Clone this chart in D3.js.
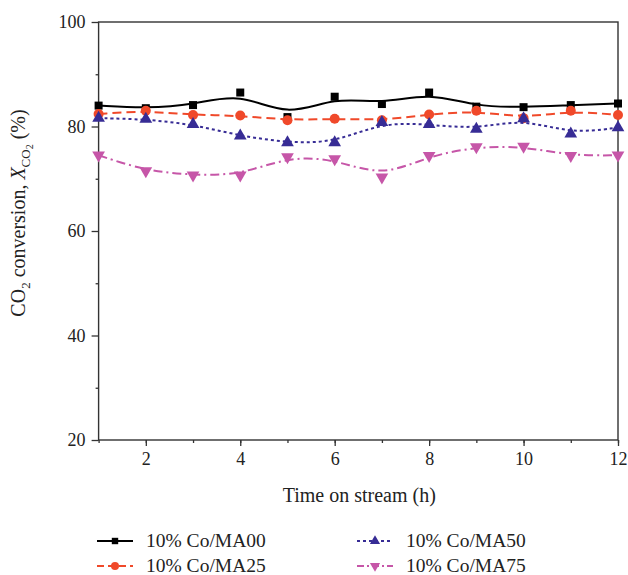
<!DOCTYPE html>
<html>
<head>
<meta charset="utf-8">
<script src="https://cdn.jsdelivr.net/npm/d3@7"></script>
<style>
  html, body { margin: 0; padding: 0; background: #fff; }
  svg { display: block; font-family: "Liberation Serif", "DejaVu Serif", serif; }
</style>
</head>
<body>
<svg id="chart" width="628" height="575"></svg>
<script>
// Time on stream (h)
const hours = [1, 2, 3, 4, 5, 6, 7, 8, 9, 10, 11, 12];

// CO2 conversion (%) for each catalyst
const ma00 = [84.0, 83.5, 84.1, 86.5, 81.8, 85.7, 84.3, 86.5, 83.8, 83.7, 84.1, 84.4];
const ma25 = [82.4, 83.0, 82.2, 82.1, 81.2, 81.5, 81.2, 82.3, 83.0, 81.6, 83.0, 82.2];
const ma50 = [81.6, 81.4, 80.4, 78.2, 76.9, 76.9, 80.8, 80.4, 79.5, 81.5, 78.6, 79.8];
const ma75 = [74.5, 71.5, 70.7, 70.7, 74.2, 73.8, 70.3, 74.4, 76.1, 76.2, 74.4, 74.5];

const seriesNames = ["10% Co/MA00", "10% Co/MA25", "10% Co/MA50", "10% Co/MA75"];
const yTicks = [20, 40, 60, 80, 100];
const xTicks = [2, 4, 6, 8, 10, 12];

const series = [
  { name: seriesNames[0], values: ma00, color: "#000000", dash: null, legendDash: null, symbol: "square" },
  { name: seriesNames[1], values: ma25, color: "#f0492a", dash: "9,5", legendDash: "7,4", symbol: "circle" },
  { name: seriesNames[2], values: ma50, color: "#372c95", dash: "3,3", legendDash: "3,3", symbol: "up" },
  { name: seriesNames[3], values: ma75, color: "#c656a8", dash: "9,4,2,4", legendDash: "7,3,2,3", symbol: "down" }
];

const svg = d3.select("#chart");
const m = { left: 98.6, right: 618, top: 22, bottom: 440 };

const x = d3.scaleLinear().domain([1, 12]).range([m.left, m.right]);
const y = d3.scaleLinear().domain([20, 100]).range([m.bottom, m.top]);

// Plot frame
svg.append("rect")
  .attr("x", m.left).attr("y", m.top)
  .attr("width", m.right - m.left).attr("height", m.bottom - m.top)
  .attr("fill", "none").attr("stroke", "#333").attr("stroke-width", 1.4);

// Bottom axis: major and minor ticks
const xAxis = svg.append("g").attr("transform", `translate(0,${m.bottom})`);
xAxis.call(d3.axisBottom(x).tickValues(d3.range(1, 13)).tickSize(3).tickFormat(""))
  .call(g => g.select(".domain").remove());
xAxis.append("g").call(d3.axisBottom(x).tickValues(xTicks).tickSize(6).tickPadding(6).tickFormat(d3.format("d")))
  .call(g => g.select(".domain").remove());
xAxis.selectAll("line").attr("stroke", "#333").attr("stroke-width", 1.3);
xAxis.selectAll("text").attr("font-size", 18).attr("fill", "#222")
  .attr("font-family", "Liberation Serif, serif");

// Left axis: major and minor ticks
const yAxis = svg.append("g").attr("transform", `translate(${m.left},0)`);
yAxis.call(d3.axisLeft(y).tickValues([30, 50, 70, 90]).tickSize(3).tickFormat(""))
  .call(g => g.select(".domain").remove());
yAxis.append("g").call(d3.axisLeft(y).tickValues(yTicks).tickSize(7).tickPadding(6).tickFormat(d3.format("d")))
  .call(g => g.select(".domain").remove());
yAxis.selectAll("line").attr("stroke", "#333").attr("stroke-width", 1.3);
yAxis.selectAll("text").attr("font-size", 18).attr("fill", "#222")
  .attr("font-family", "Liberation Serif, serif");

// Axis titles
svg.append("text")
  .attr("x", (m.left + m.right) / 2 + 1).attr("y", 502)
  .attr("text-anchor", "middle").attr("font-size", 20).attr("fill", "#222")
  .text("Time on stream (h)");

const yTitle = svg.append("text")
  .attr("transform", `translate(25,213) rotate(-90)`)
  .attr("text-anchor", "middle").attr("font-size", 20).attr("fill", "#222");
yTitle.append("tspan").text("CO");
yTitle.append("tspan").attr("font-size", 13).attr("dy", 5).text("2");
yTitle.append("tspan").attr("dy", -5).text(" conversion, ");
yTitle.append("tspan").attr("font-style", "italic").text("X");
yTitle.append("tspan").attr("font-size", 13).attr("dy", 5).text("CO");
yTitle.append("tspan").attr("font-size", 10).attr("dy", 3).text("2");
yTitle.append("tspan").attr("dy", -8).text(" (%)");

// Marker drawing
function drawMarker(sel, symbol, color, cx, cy, scale) {
  const s = scale || 1;
  if (symbol === "square") {
    const a = 8 * s;
    sel.append("rect").attr("x", cx - a / 2).attr("y", cy - a / 2)
      .attr("width", a).attr("height", a).attr("fill", color);
  } else if (symbol === "circle") {
    sel.append("circle").attr("cx", cx).attr("cy", cy).attr("r", 5 * s).attr("fill", color);
  } else {
    const tri = d3.symbol().type(d3.symbolTriangle).size(70 * s * s);
    sel.append("path").attr("d", tri())
      .attr("transform", `translate(${cx},${cy})` + (symbol === "down" ? " rotate(180)" : ""))
      .attr("fill", color);
  }
}

const line = d3.line().curve(d3.curveBasis)
  .x((d, i) => x(hours[i])).y(d => y(d));

const plot = svg.append("g");
series.forEach(s => {
  plot.append("path").datum(s.values)
    .attr("d", line)
    .attr("fill", "none").attr("stroke", s.color).attr("stroke-width", 2)
    .attr("stroke-dasharray", s.dash);
  const mg = plot.append("g");
  s.values.forEach((v, i) => drawMarker(mg, s.symbol, s.color, x(hours[i]), y(v), 1));
});

// Legend
const legendPos = [
  { lx: 97, ly: 541 }, { lx: 97, ly: 566 },
  { lx: 357, ly: 541 }, { lx: 357, ly: 566 }
];
series.forEach((s, i) => {
  const p = legendPos[i];
  const g = svg.append("g");
  g.append("line").attr("x1", p.lx).attr("x2", p.lx + 36)
    .attr("y1", p.ly).attr("y2", p.ly)
    .attr("stroke", s.color).attr("stroke-width", 2)
    .attr("stroke-dasharray", s.legendDash);
  drawMarker(g, s.symbol, s.color, p.lx + 18, p.ly, 0.8);
  g.append("text").attr("x", p.lx + 49).attr("y", p.ly + 6)
    .attr("font-size", 19.5).attr("fill", "#222").text(s.name);
});
</script>
</body>
</html>
